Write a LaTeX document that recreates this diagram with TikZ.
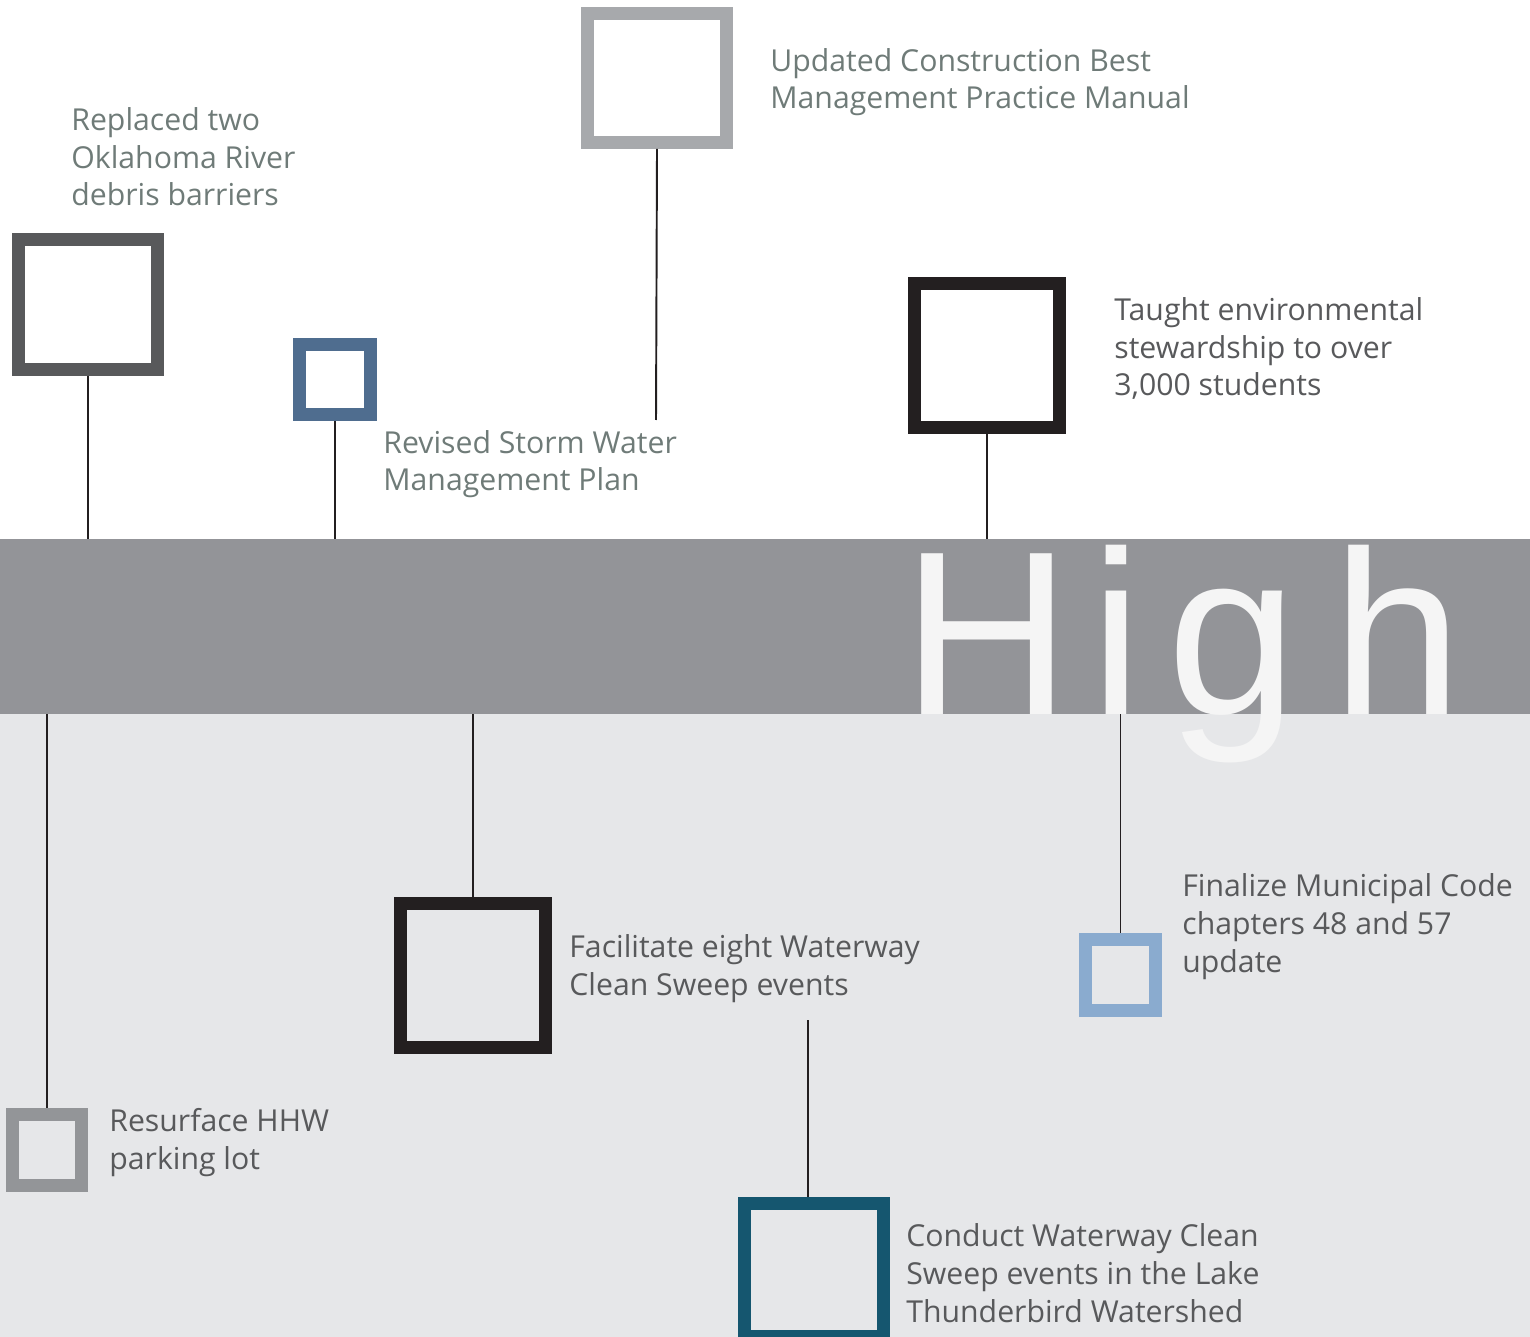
\documentclass[tikz,border=0pt]{standalone}
\usepackage{fontspec}
\setmainfont{Open Sans}
\newfontfamily\bigfont{Liberation Sans}
\definecolor{bandgray}{HTML}{939498}
\definecolor{lowbg}{HTML}{E6E7E9}
\definecolor{bigtxt}{HTML}{F5F5F5}
\definecolor{txtgreen}{HTML}{6F7B78}
\definecolor{txtgray}{HTML}{58595B}
\definecolor{sqdark}{HTML}{58595B}
\definecolor{sqblue}{HTML}{4F6D8F}
\definecolor{sqlight}{HTML}{A7A9AC}
\definecolor{sqblack}{HTML}{231F20}
\definecolor{sqgray}{HTML}{939598}
\definecolor{sqsky}{HTML}{8AABCF}
\definecolor{sqteal}{HTML}{15566F}

\begin{document}
\begin{tikzpicture}[x=0.02cm, y=-0.02cm,
    sq/.style={rectangle, draw, line width=0.26cm, inner sep=0pt},
    bigsq/.style={sq, minimum width=2.9cm, minimum height=2.88cm},
    midsq/.style={sq, minimum width=2.78cm, minimum height=2.6cm},
    smallsq/.style={sq, minimum width=1.42cm, minimum height=1.4cm},
    link/.style={draw=sqblack, line width=1.1pt},
    txt/.style={align=left, inner sep=0pt, anchor=base west,
              font={\fontsize{17.2}{21.6}\selectfont}},
    letter/.style={inner sep=0pt, anchor=base, text=bigtxt,
              font={\bigfont\fontsize{133}{133}\selectfont}}
]
    \path[use as bounding box] (0,0) rectangle (1530,1337);
    \clip (0,0) rectangle (1530,1337);

    % background and band
    \fill[lowbg] (0,714) rectangle (1530,1337);
    \node[rectangle, fill=bandgray, inner sep=0pt,
          minimum width=30.6cm, minimum height=3.5cm] (band) at (765,626.5) {};

    \node[letter] (lH) at (986.5,714) {H};
    \node[letter] (li) at (1116,714) {i};
    \node[letter] (lg) at (1232,714) {g};
    \node[letter] (lh) at (1397.5,714) {h};

    % upper squares
    \node[midsq, draw=sqdark] (debris) at (88,304.5) {};
    \node[smallsq, draw=sqblue] (storm) at (335,379.5) {};
    \node[midsq, draw=sqlight, minimum height=2.58cm] (bmp) at (657,78) {};
    \node[bigsq, draw=sqblack] (teach) at (987,355.5) {};

    % lower squares
    \node[bigsq, draw=sqblack] (sweep) at (473,975.5) {};
    \node[smallsq, draw=sqgray, minimum width=1.4cm, minimum height=1.42cm] (hhw) at (47,1150) {};
    \node[smallsq, draw=sqsky, minimum width=1.4cm, minimum height=1.42cm] (code) at (1120.5,975) {};
    \node[midsq, draw=sqteal, minimum height=2.66cm] (lake) at (814,1269.5) {};

    \coordinate (bmpEnd) at (656,420);
    \coordinate (lakeTop) at (808,1020);

    \draw[link] (debris.south) -- (debris.south |- band.north);
    \draw[link] (storm.south) -- (storm.south |- band.north);
    \draw[link] (bmp.south) -- (bmpEnd);
    \draw[link] (teach.south) -- (teach.south |- band.north);
    \draw[link] (sweep.north |- band.south) -- (sweep.north);
    \draw[link] (hhw.north |- band.south) -- (hhw.north);
    \draw[link] (code.north |- band.south) -- (code.north);
    \draw[link] (lakeTop) -- (lakeTop |- lake.north);

    % labels (anchored on the last line)
    \node[txt, text=txtgreen] (debrisTxt) at (71,206)
        {Replaced two\\Oklahoma River\\debris barriers};
    \node[txt, text=txtgreen] (bmpTxt) at (770,109)
        {Updated Construction Best\\Management Practice Manual};
    \node[txt, text=txtgreen] (stormTxt) at (383,491)
        {Revised Storm Water\\Management Plan};
    \node[txt, text=txtgray] (teachTxt) at (1114,396)
        {Taught environmental\\stewardship to over\\3,000 students};
    \node[txt, text=txtgray] (sweepTxt) at (569,995)
        {Facilitate eight Waterway\\Clean Sweep events};
    \node[txt, text=txtgray] (codeTxt) at (1182,972)
        {Finalize Municipal Code\\chapters 48 and 57\\update};
    \node[txt, text=txtgray] (hhwTxt) at (109,1169)
        {Resurface HHW\\parking lot};
    \node[txt, text=txtgray] (lakeTxt) at (906,1322)
        {Conduct Waterway Clean\\Sweep events in the Lake\\Thunderbird Watershed};
\end{tikzpicture}
\end{document}
